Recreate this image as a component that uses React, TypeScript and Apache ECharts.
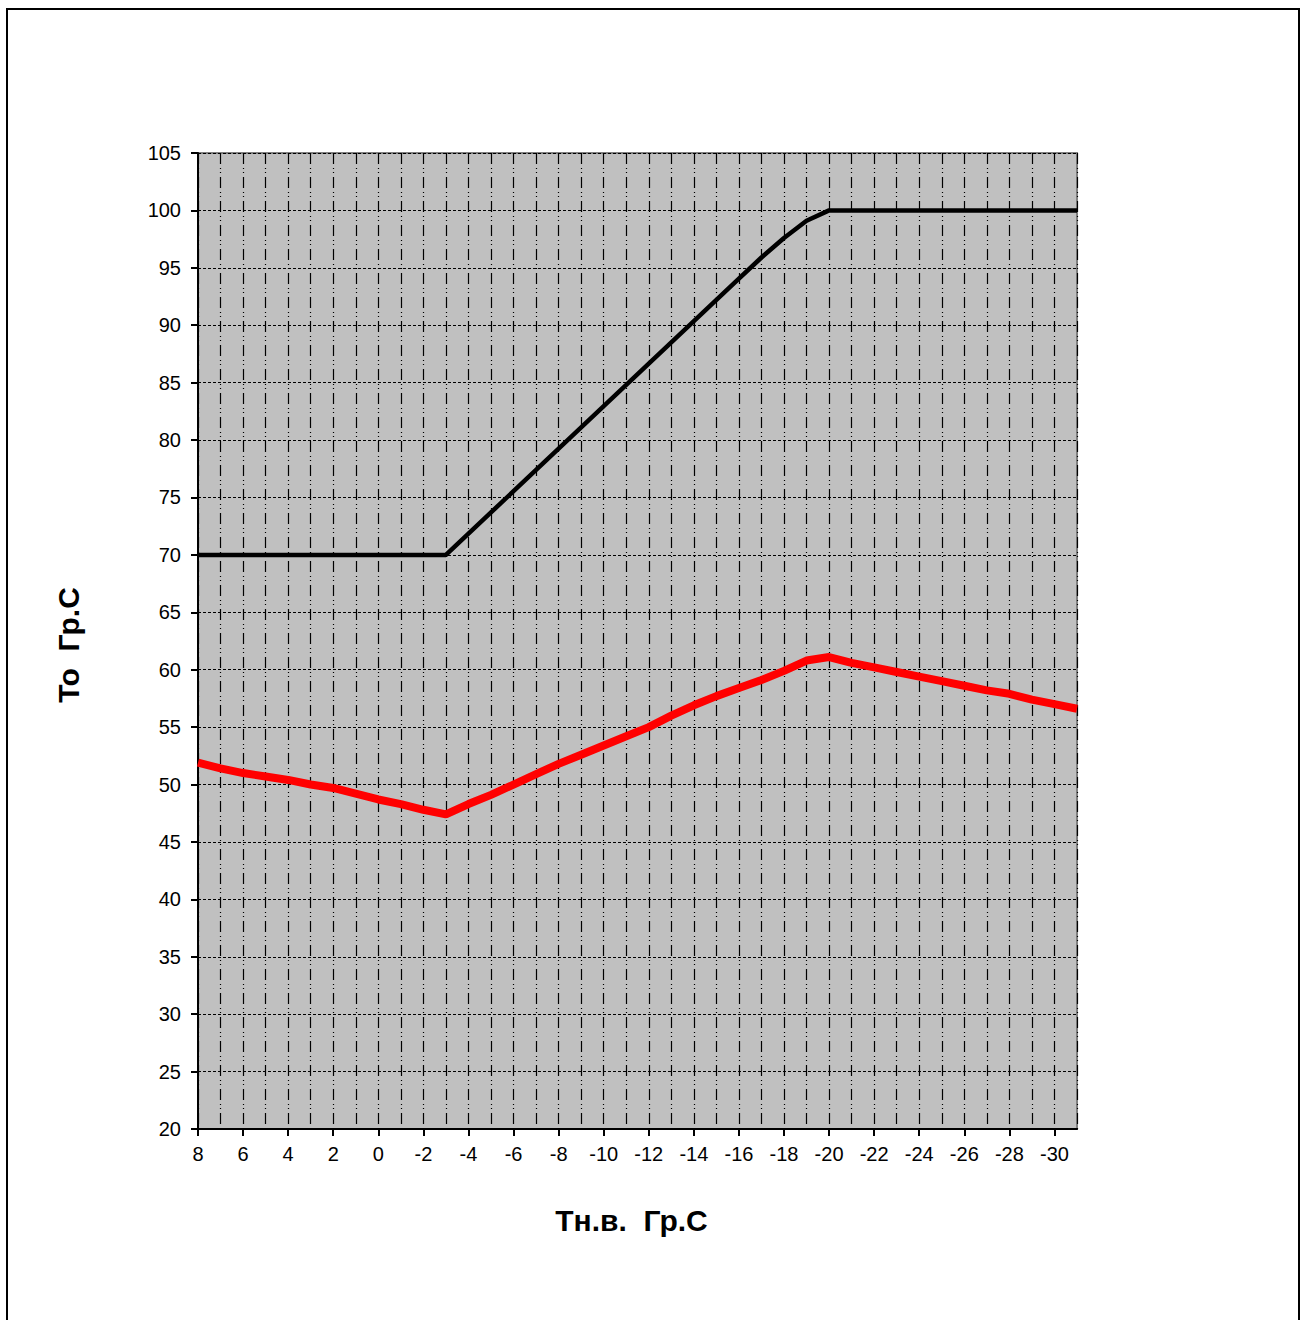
import React, { useEffect, useRef } from "react";
import * as echarts from "echarts";

const categories: string[] = [
  "8", "7", "6", "5", "4", "3", "2", "1", "0", "-1", "-2", "-3", "-4", "-5", "-6", "-7", "-8", "-9", "-10", "-11",
  "-12", "-13", "-14", "-15", "-16", "-17", "-18", "-19", "-20", "-21", "-22", "-23", "-24", "-25", "-26", "-27", "-28", "-29", "-30", "-31",
];

const supplyTemp: number[] = [
  70, 70, 70, 70, 70, 70, 70, 70, 70, 70, 70, 70, 71.85, 73.7, 75.55, 77.4, 79.25, 81.1, 82.95, 84.8,
  86.65, 88.5, 90.35, 92.2, 94.05, 95.9, 97.6, 99.1, 100, 100, 100, 100, 100, 100, 100, 100, 100, 100, 100, 100,
];

const returnTemp: number[] = [
  51.9, 51.4, 51.0, 50.7, 50.4, 50.0, 49.7, 49.2, 48.7, 48.3, 47.8, 47.4, 48.3, 49.1, 50.0, 50.9, 51.8, 52.6, 53.4, 54.2,
  55.0, 56.0, 56.9, 57.7, 58.4, 59.1, 59.9, 60.8, 61.1, 60.6, 60.2, 59.8, 59.4, 59.0, 58.6, 58.2, 57.9, 57.4, 57.0, 56.6,
];

const Y_MIN = 20;
const Y_MAX = 105;
const Y_STEP = 5;

const FONT = "'Liberation Sans', Arial, sans-serif";

export default function App() {
  const ref = useRef<HTMLDivElement>(null);
  useEffect(() => {
    if (!ref.current) return;
    const chart = echarts.init(ref.current, null, { renderer: "svg" });
    chart.setOption({
      animation: false,
      backgroundColor: "#ffffff",
      graphic: [
        {
          type: "rect",
          shape: { x: 7, y: 9, width: 1292, height: 1320 },
          style: { fill: "none", stroke: "#000", lineWidth: 2 },
          silent: true,
        },
      ],
      grid: {
        left: 198,
        right: 223,
        top: 153,
        bottom: 191,
        show: true,
        backgroundColor: "#c0c0c0",
        borderColor: "#808080",
        borderWidth: 2,
      },
      xAxis: {
        type: "category",
        data: categories,
        boundaryGap: false,
        name: "Тн.в.  Гр.С",
        nameLocation: "middle",
        nameGap: 76,
        nameTextStyle: {
          fontFamily: FONT,
          fontSize: 30,
          fontWeight: "bold",
          color: "#000",
          padding: [0, 12, 0, 0],
        },
        axisLine: { show: true, lineStyle: { color: "#000", width: 2 } },
        axisTick: { show: true, interval: 1, length: 7, lineStyle: { color: "#000", width: 2 } },
        axisLabel: { interval: 1, margin: 15, fontFamily: FONT, fontSize: 20, color: "#000" },
        splitLine: {
          show: true,
          interval: 0,
          lineStyle: { color: "#000", width: 1.2, type: [11, 4, 1, 3, 1, 4] },
        },
      },
      yAxis: {
        type: "value",
        min: Y_MIN,
        max: Y_MAX,
        interval: Y_STEP,
        name: "То  Гр.С",
        nameLocation: "middle",
        nameGap: 115,
        nameRotate: 90,
        nameTextStyle: {
          fontFamily: FONT,
          fontSize: 30,
          fontWeight: "bold",
          color: "#000",
          padding: [0, 8, 0, 0],
        },
        axisLine: { show: true, lineStyle: { color: "#000", width: 2 } },
        axisTick: { show: true, length: 7, lineStyle: { color: "#000", width: 2 } },
        axisLabel: { margin: 17, fontFamily: FONT, fontSize: 20, color: "#000" },
        splitLine: {
          show: true,
          lineStyle: { color: "#000", width: 1.2, type: [3, 2] },
        },
      },
      series: [
        {
          name: "supply",
          type: "line",
          data: supplyTemp,
          symbol: "none",
          lineStyle: { color: "#000", width: 4.5 },
          z: 3,
        },
        {
          name: "return",
          type: "line",
          data: returnTemp,
          symbol: "none",
          lineStyle: { color: "#ff0000", width: 8 },
          z: 4,
        },
      ],
    });
    return () => chart.dispose();
  }, []);
  return (
    <div
      ref={ref}
      style={{ position: "absolute", left: 0, top: 0, width: 1300, height: 1320 }}
    />
  );
}
